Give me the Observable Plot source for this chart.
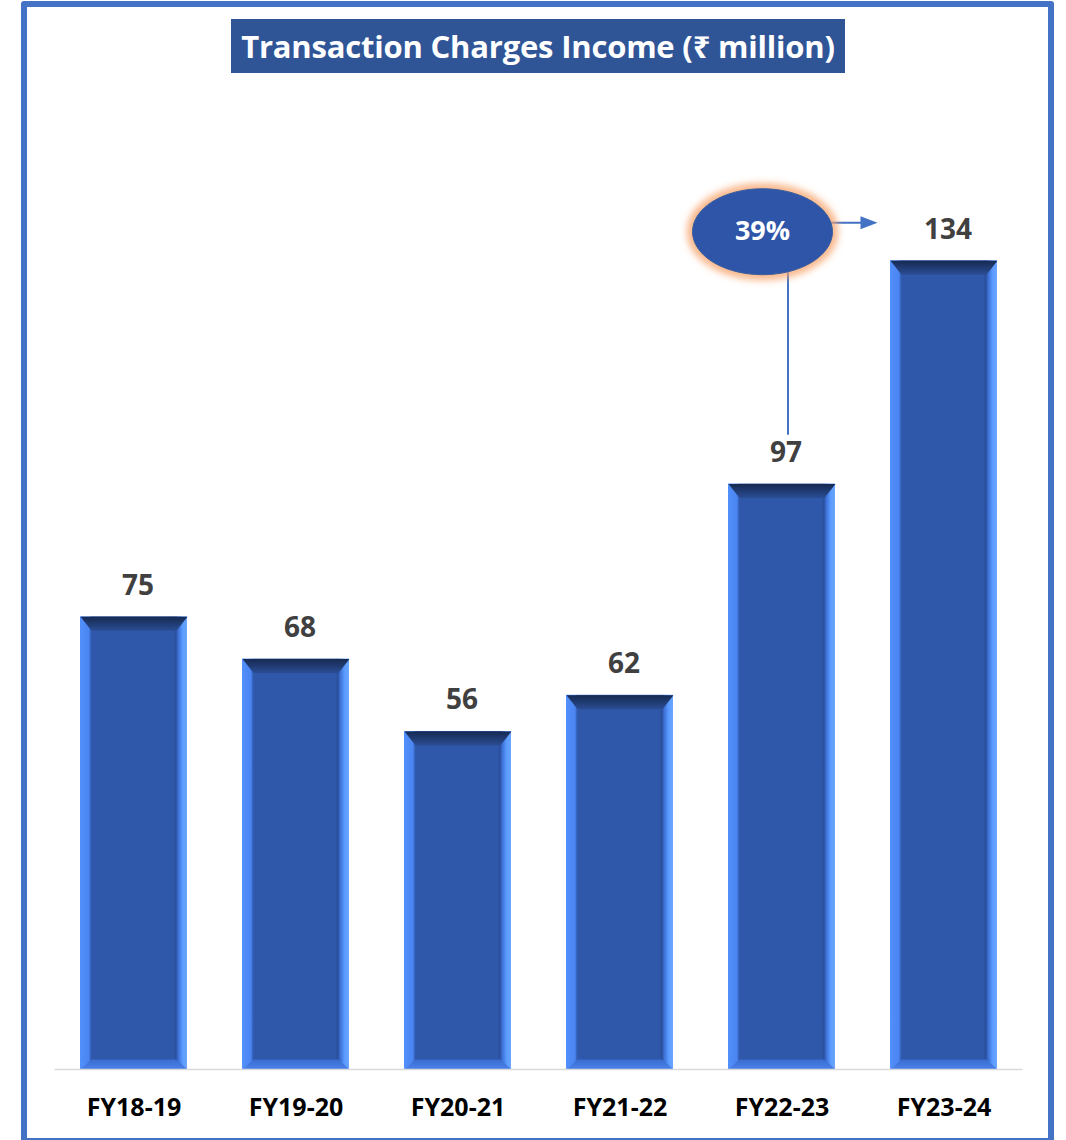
<!DOCTYPE html>
<html>
<head>
<meta charset="utf-8">
<script src="https://cdn.jsdelivr.net/npm/d3@7"></script>
<script src="https://cdn.jsdelivr.net/npm/@observablehq/plot@0.6"></script>
<style>
  html, body { margin: 0; padding: 0; background: #fff; }
  body { width: 1066px; height: 1140px; position: relative; overflow: hidden; font-family: "Open Sans", "Noto Sans", "DejaVu Sans", sans-serif; }
  #frame { position: absolute; left: 21px; top: 1px; width: 1033px; height: 1143px; box-sizing: border-box; border: 6px solid #4472C4; border-radius: 3px; }
  #title { position: absolute; left: 231px; top: 19px; width: 614px; height: 54px; background: #2F5597; color: #fff; font-weight: 700; font-size: 31px; line-height: 54px; text-align: center; white-space: nowrap; letter-spacing: -0.2px; }
  #chart { position: absolute; left: 0; top: 80px; }
</style>
</head>
<body>
<svg width="0" height="0" style="position:absolute">
  <defs>
    <linearGradient id="sideGrad" x1="0" x2="1" y1="0" y2="0">
      <stop offset="0%" stop-color="#5290FB"/>
      <stop offset="8.5%" stop-color="#4A84F0"/>
      <stop offset="10%" stop-color="#3562BD"/>
      <stop offset="11%" stop-color="#2F57AA"/>
      <stop offset="87.5%" stop-color="#2F57AA"/>
      <stop offset="89.5%" stop-color="#2A4E9B"/>
      <stop offset="92%" stop-color="#3E72D9"/>
      <stop offset="96%" stop-color="#5C9CFF"/>
      <stop offset="100%" stop-color="#6AA6FF"/>
    </linearGradient>
    <linearGradient id="topGrad" x1="0" x2="0" y1="0" y2="1">
      <stop offset="0%" stop-color="#162A52"/>
      <stop offset="100%" stop-color="#2B4D94"/>
    </linearGradient>
    <linearGradient id="botGrad" x1="0" x2="0" y1="0" y2="1">
      <stop offset="0%" stop-color="#3A6CD0"/>
      <stop offset="100%" stop-color="#4A82EA"/>
    </linearGradient>
    <filter id="glowBlur" x="-30%" y="-30%" width="160%" height="160%">
      <feGaussianBlur stdDeviation="3.5"/>
    </filter>
  </defs>
</svg>
<div id="frame"></div>
<div id="title">Transaction Charges Income (₹ million)</div>
<div id="chart"></div>
<script>
// ---- data ----
const categories = ["FY18-19", "FY19-20", "FY20-21", "FY21-22", "FY22-23", "FY23-24"];
const values = [75, 68, 56, 62, 97, 134];
const growthText = "39%";
const growthFrom = "FY22-23";
const growthTo = "FY23-24";

const data = categories.map((c, i) => ({category: c, value: values[i]}));
const fromValue = values[categories.indexOf(growthFrom)];
const toValue = values[categories.indexOf(growthTo)];
const annotation = [{from: growthFrom, to: growthTo, fromValue, toValue, text: growthText}];

// ---- layout ----
const W = 1066, H = 1060;
const mL = 52.5, mR = 41.5, mT = 144, mB = 71;
const padIn = 0.34, padOut = 0.17;
const step = (W - mL - mR) / (categories.length - padIn + 2 * padOut);
const bw = step * (1 - padIn);

const sideBevel = 11, topDepth = 14, botDepth = 10;
const topBevel = {draw(c) {
  c.moveTo(-bw / 2, 0); c.lineTo(bw / 2, 0);
  c.lineTo(bw / 2 - sideBevel, topDepth); c.lineTo(-bw / 2 + sideBevel, topDepth); c.closePath();
}};
const bottomBevel = {draw(c) {
  c.moveTo(-bw / 2, 0); c.lineTo(bw / 2, 0);
  c.lineTo(bw / 2 - sideBevel, -botDepth); c.lineTo(-bw / 2 + sideBevel, -botDepth); c.closePath();
}};
const ellipse = {draw(c) {
  const rx = 70, ry = 43, k = 0.5523, kx = rx * k, ky = ry * k;
  c.moveTo(-rx, 0);
  c.bezierCurveTo(-rx, -ky, -kx, -ry, 0, -ry);
  c.bezierCurveTo(kx, -ry, rx, -ky, rx, 0);
  c.bezierCurveTo(rx, ky, kx, ry, 0, ry);
  c.bezierCurveTo(-kx, ry, -rx, ky, -rx, 0);
  c.closePath();
}};
const arrowHead = {draw(c) {
  c.moveTo(0, -6.5); c.lineTo(17, 0); c.lineTo(0, 6.5); c.closePath();
}};

const font = "'Open Sans', 'Noto Sans', 'DejaVu Sans', sans-serif";
const glowColor = "#F7A46A";

const chart = Plot.plot({
  width: W,
  height: H,
  marginLeft: mL,
  marginRight: mR,
  marginTop: mT,
  marginBottom: mB,
  style: {fontFamily: font, fontSize: "25px", fontWeight: "bold", color: "#000", background: "transparent", overflow: "visible"},
  x: {domain: categories, type: "band", paddingInner: padIn, paddingOuter: padOut, label: null, tickSize: 0, tickPadding: 29},
  y: {domain: [0, 140], axis: null},
  marks: [
    Plot.barY(data, {x: "category", y: "value", fill: "url(#sideGrad)"}),
    Plot.dot(data, {x: "category", y: "value", symbol: topBevel, fill: "url(#topGrad)", stroke: null}),
    Plot.dot(data, {x: "category", y: 0, symbol: bottomBevel, fill: "url(#botGrad)", stroke: null}),
    Plot.ruleY([0], {stroke: "#D9D9D9", strokeWidth: 1.5, insetLeft: 2, insetRight: 2}),
    Plot.text(data, {x: "category", y: "value", text: d => String(d.value), dx: 4, dy: -31, fontSize: 28, fontWeight: "bold", fill: "#404040"}),
    // growth annotation: connector from the FY22-23 bar up to the bubble, arrow on to FY23-24
    Plot.arrow(annotation, {x1: "from", x2: "from", y1: "fromValue", y2: "toValue", dx: 6, insetStart: 50, insetEnd: 0, headLength: 0, bend: 0, stroke: "#4472C4", strokeWidth: 2}),
    Plot.arrow(annotation, {x1: "from", x2: "to", y1: "toValue", y2: "toValue", dy: -38, insetStart: 40, insetEnd: 82, headLength: 0, bend: 0, stroke: "#4472C4", strokeWidth: 2}),
    Plot.dot(annotation, {x: "to", y: "toValue", dy: -38, dx: -83.5, symbol: arrowHead, fill: "#4472C4", stroke: null}),
    Plot.dot(annotation, {x: "from", y: "toValue", dx: -19.5, dy: -29, symbol: ellipse, fill: "none", stroke: glowColor, strokeWidth: 11, strokeOpacity: 0.8}),
    Plot.dot(annotation, {x: "from", y: "toValue", dx: -19.5, dy: -29, symbol: ellipse, fill: "#2E55A8", stroke: "#3A5E9E", strokeWidth: 1}),
    Plot.text(annotation, {x: "from", y: "toValue", dx: -19.5, dy: -29, text: "text", fill: "#fff", fontSize: 27, fontWeight: "bold"})
  ]
});
// soften the orange halo round the bubble
chart.querySelectorAll(`[stroke="${glowColor}"]`).forEach(el => el.setAttribute("filter", "url(#glowBlur)"));
document.getElementById("chart").appendChild(chart);
</script>
</body>
</html>
